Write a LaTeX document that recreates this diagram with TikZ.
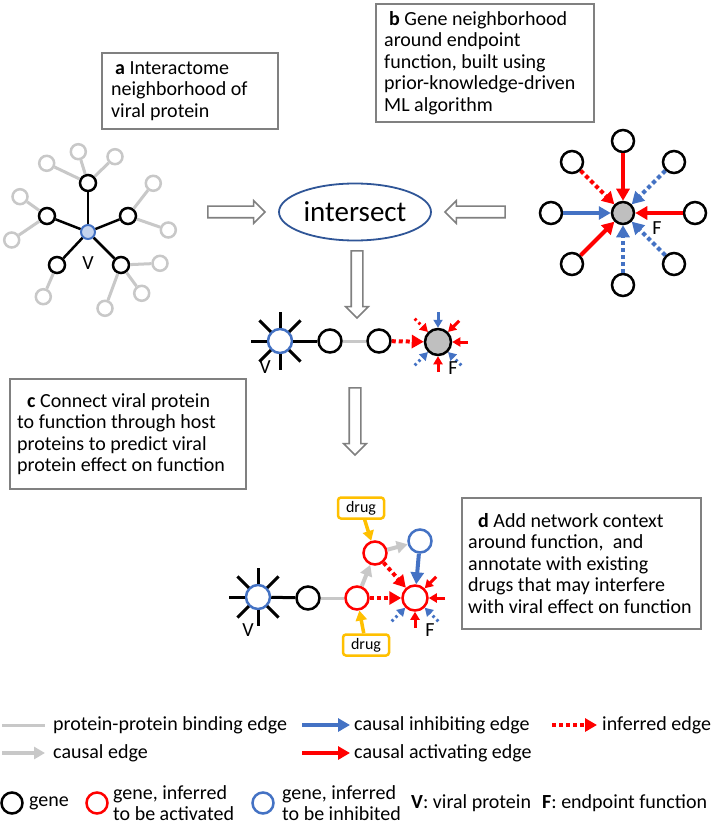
\documentclass[tikz,border=0pt]{standalone}
\usepackage{fontspec}
\setmainfont{Carlito}
\usetikzlibrary{arrows.meta,shapes.arrows,shapes.geometric,calc}
\definecolor{lgray}{HTML}{C8C8C8}
\definecolor{bgray}{HTML}{808080}
\definecolor{myblue}{HTML}{4472C4}
\definecolor{lblue}{HTML}{C5D4EE}
\definecolor{myred}{HTML}{FF0000}
\definecolor{gold}{HTML}{FFC000}
\definecolor{navy}{HTML}{2F5597}
\definecolor{fgray}{HTML}{BFBFBF}
\begin{document}
\begin{tikzpicture}[x=1pt,y=-1pt,
  every node/.style={inner sep=0pt},
  txt/.style={font=\fontsize{20}{21.5}\selectfont, align=left, text=black},
  boxr/.style={draw=bgray, line width=2pt, rectangle, fill=white},
  gnode/.style={circle, draw=black, line width=2.5pt, fill=white, minimum size=16pt},
  grnode/.style={circle, draw=lgray, line width=2.5pt, fill=white, minimum size=15pt},
  bnode/.style={circle, draw=black, line width=2.5pt, fill=white, minimum size=23pt},
  rnode/.style={circle, draw=myred, line width=2.5pt, fill=white, minimum size=23pt},
  blnode/.style={circle, draw=myblue, line width=2.5pt, fill=white, minimum size=23pt},
  wnode/.style={circle, draw=black, line width=2.5pt, fill=white, minimum size=22pt},
  ppi/.style={lgray, line width=3pt},
  bind/.style={black, line width=2.5pt},
  spoke/.style={black, line width=3pt},
  act/.style={myred, line width=4pt, -{Triangle[length=12pt,width=13pt]}},
  inh/.style={myblue, line width=4pt, -{Triangle[length=12pt,width=13pt]}},
  infr/.style={act, dash pattern=on 4pt off 3pt},
  infb/.style={inh, dash pattern=on 4pt off 3pt},
  caus/.style={lgray, line width=4pt, -{Triangle[length=11pt,width=12pt]}},
  drugarr/.style={gold, line width=3.5pt, -{Triangle[length=10pt,width=11pt]}},
  sact/.style={myred, line width=3pt, -{Triangle[length=8pt,width=9pt]}},
  sinh/.style={myblue, line width=3pt, -{Triangle[length=8pt,width=9pt]}},
  sactd/.style={sact, dash pattern=on 2.5pt off 3pt},
  sinhd/.style={sinh, dash pattern=on 2.5pt off 3pt},
  hollow/.style={single arrow, draw=bgray, line width=1.6pt, fill=white, inner sep=5pt,
     single arrow head extend=5.5pt, single arrow tip angle=90},
  drugbox/.style={draw=gold, line width=2.5pt, rounded corners=3pt, fill=white,
     minimum width=46pt, minimum height=21pt, font=\fontsize{16}{18}\selectfont},
  lab/.style={font=\fontsize{20}{21}\selectfont}
]
\useasboundingbox[fill=white] (0,0) rectangle (712,826);

% ---------- text boxes ----------
\node[boxr, minimum width=176pt, minimum height=76pt, anchor=north west] (boxA) at (101,52) {};
\node[txt, anchor=west] (txtA) at ([xshift=10pt]boxA.west) {\hspace{4pt}\textbf{a} Interactome\\neighborhood of\\viral protein};

\node[boxr, minimum width=218pt, minimum height=118pt, anchor=north west] (boxB) at (375,3) {};
\node[txt, anchor=west] (txtB) at ([xshift=9pt]boxB.west) {\hspace{5pt}\textbf{b} Gene neighborhood\\around endpoint\\function, built using\\prior-knowledge-driven\\ML algorithm};

\node[boxr, minimum width=236pt, minimum height=110pt, anchor=north west] (boxC) at (9,378) {};
\node[txt, anchor=west] (txtC) at ([xshift=8pt]boxC.west) {\hspace{10pt}\textbf{c} Connect viral protein\\to function through host\\proteins to predict viral\\protein effect on function};

\node[boxr, minimum width=239pt, minimum height=131pt, anchor=north west] (boxD) at (461,497) {};
\node[txt, anchor=west] (txtD) at ([xshift=7pt]boxD.west) {\hspace{10pt}\textbf{d} Add network context\\around function,\ \ and\\annotate with existing\\drugs that may interfere\\with viral effect on function};

% ---------- a: interactome neighborhood ----------
\node[circle, draw=myblue, fill=lblue, line width=2pt, minimum size=14pt] (V1) at (88,232) {};
\node[gnode] (a1) at (88,183) {};
\node[gnode] (a2) at (47,216) {};
\node[gnode] (a3) at (128,216) {};
\node[gnode] (a4) at (57,265) {};
\node[gnode] (a5) at (121,265) {};
\node[grnode] (g1) at (46.7,163.3) {};
\node[grnode] (g2) at (78.3,151.7) {};
\node[grnode] (g3) at (115,156.7) {};
\node[grnode] (g4) at (20,196.7) {};
\node[grnode] (g5) at (11.7,240) {};
\node[grnode] (g6) at (153.3,183.3) {};
\node[grnode] (g7) at (168.3,230) {};
\node[grnode] (g8) at (43.3,296.7) {};
\node[grnode] (g9) at (160,263.3) {};
\node[grnode] (g10) at (141.7,293.3) {};
\node[grnode] (g11) at (105,308.3) {};
\foreach \s/\t in {a1/g1,a1/g2,a1/g3,a2/g4,a2/g5,a3/g6,a3/g7,a4/g8,a5/g9,a5/g10,a5/g11}
  \draw[ppi] (\s) -- (\t);
\foreach \t in {a1,a2,a3,a4,a5}
  \draw[bind] (V1) -- (\t);
\node[lab] (V1l) at (88,263) {V};

% ---------- intersect ----------
\node[ellipse, draw=navy, line width=1.8pt, minimum width=152pt, minimum height=57pt,
      font=\fontsize{29}{32}\selectfont] (X) at (355,212) {intersect};
\node[hollow, minimum height=57pt] (h1) at (233.5,212) {};
\node[hollow, minimum height=60pt, rotate=180] (h2) at (478,212) {};
\node[hollow, minimum height=67pt, rotate=-90] (h3) at (357,281.5) {};
\node[hollow, minimum height=67pt, rotate=-90] (h4) at (355,418.5) {};

% ---------- b: endpoint neighborhood ----------
\node[circle, draw=black, fill=fgray, line width=2.5pt, minimum size=22pt] (F1) at (623,213) {};
\node[wnode] (b1) at (623,141) {};
\node[wnode] (b2) at (572,162) {};
\node[wnode] (b3) at (674,162) {};
\node[wnode] (b4) at (551,213) {};
\node[wnode] (b5) at (695,213) {};
\node[wnode] (b6) at (572,264) {};
\node[wnode] (b7) at (674,264) {};
\node[wnode] (b8) at (623,285) {};
\draw[act] (b1) -- (F1);
\draw[infr] (b2) -- (F1);
\draw[infb] (b3) -- (F1);
\draw[inh] (b4) -- (F1);
\draw[act] (b5) -- (F1);
\draw[act] (b6) -- (F1);
\draw[infb] (b7) -- (F1);
\draw[infb] (b8) -- (F1);
\node[lab] (F1l) at (657,228) {F};

% ---------- c: chain ----------
\node[blnode, minimum size=24pt] (V2) at (280,341) {};
\foreach \a in {90,135,180,225,270,315,45}
  \draw[spoke] ([shift={(\a:13pt)}]V2.center) -- ([shift={(\a:29pt)}]V2.center);
\node[bnode] (c1) at (330,341) {};
\node[bnode] (c2) at (379,341) {};
\node[circle, draw=black, fill=fgray, line width=2.5pt, minimum size=26pt] (F2) at (438,342) {};
\draw[bind, line width=3pt] (V2) -- (c1);
\draw[ppi] (c1) -- (c2);
\draw[infr] (c2) -- (F2);
\draw[sinh] ([shift={(90:30pt)}]F2.center) -- (F2);
\draw[sact] ([shift={(45:30pt)}]F2.center) -- (F2);
\draw[sact] ([shift={(0:30pt)}]F2.center) -- (F2);
\draw[sact] ([shift={(270:30pt)}]F2.center) -- (F2);
\draw[sinhd] ([shift={(315:33pt)}]F2.center) -- (F2);
\draw[sinhd] ([shift={(225:33pt)}]F2.center) -- (F2);
\draw[sactd] ([shift={(135:33pt)}]F2.center) -- (F2);
\node[lab] (V2l) at (265,367) {V};
\node[lab] (F2l) at (453,368) {F};

% ---------- d: network context ----------
\node[blnode, minimum size=24pt] (V3) at (258,597) {};
\foreach \a in {90,135,180,225,270,315,45}
  \draw[spoke] ([shift={(\a:13pt)}]V3.center) -- ([shift={(\a:29pt)}]V3.center);
\node[bnode] (d1) at (308,598) {};
\node[rnode] (r1) at (357,598) {};
\node[rnode] (r2) at (375,553) {};
\node[blnode] (bl) at (420,541) {};
\node[rnode, minimum size=25pt] (F3) at (415,598) {};
\draw[bind, line width=3pt] (V3) -- (d1);
\draw[ppi] (d1) -- (r1);
\draw[caus] (r1) -- (r2);
\draw[caus] (r2) -- (bl);
\draw[inh] (bl) -- (F3);
\draw[infr] (r2) -- (F3);
\draw[infr] (r1) -- (F3);
\draw[sact] ([shift={(45:30pt)}]F3.center) -- (F3);
\draw[sact] ([shift={(0:30pt)}]F3.center) -- (F3);
\draw[sact] ([shift={(270:30pt)}]F3.center) -- (F3);
\draw[sinhd] ([shift={(315:33pt)}]F3.center) -- (F3);
\draw[sinhd] ([shift={(225:33pt)}]F3.center) -- (F3);
\node[drugbox] (drugT) at (361,508) {drug};
\node[drugbox] (drugB) at (366,645) {drug};
\draw[drugarr] (drugT) -- (r2);
\draw[drugarr] (drugB) -- (r1);
\node[lab] (V3l) at (248,630) {V};
\node[lab] (F3l) at (430,630) {F};

% ---------- legend ----------
\coordinate (L1a) at (2,725); \coordinate (L1b) at (45,725);
\draw[ppi] (L1a) -- (L1b);
\node[lab, anchor=west] (L1t) at (53,725) {protein-protein binding edge};
\coordinate (L2a) at (302,725); \coordinate (L2b) at (350,725);
\draw[inh] (L2a) -- (L2b);
\node[lab, anchor=west] (L2t) at (354,725) {causal inhibiting edge};
\coordinate (L3a) at (552,725); \coordinate (L3b) at (597,725);
\draw[infr] (L3a) -- (L3b);
\node[lab, anchor=west] (L3t) at (602,725) {inferred edge};
\coordinate (L4a) at (2,753); \coordinate (L4b) at (45,753);
\draw[caus] (L4a) -- (L4b);
\node[lab, anchor=west] (L4t) at (53,753) {causal edge};
\coordinate (L5a) at (302,753); \coordinate (L5b) at (350,753);
\draw[act] (L5a) -- (L5b);
\node[lab, anchor=west] (L5t) at (354,753) {causal activating edge};

\node[circle, draw=black, line width=2.5pt, minimum size=21pt] (Lg) at (12,803) {};
\node[lab, anchor=west] (Lgt) at (29,803) {gene};
\node[circle, draw=myred, line width=2.5pt, minimum size=21pt] (Lr) at (97,803) {};
\node[lab, anchor=west, align=left] (Lrt) at (113,803) {gene, inferred\\to be activated};
\node[circle, draw=myblue, line width=2.5pt, minimum size=21pt] (Lb) at (263,803) {};
\node[lab, anchor=west, align=left] (Lbt) at (282,803) {gene, inferred\\to be inhibited};
\node[lab, anchor=west] (Lv) at (411,803) {\textbf{V}:\ viral protein};
\node[lab, anchor=west] (Lf) at (542,803) {\textbf{F}: endpoint function};
\end{tikzpicture}
\end{document}
